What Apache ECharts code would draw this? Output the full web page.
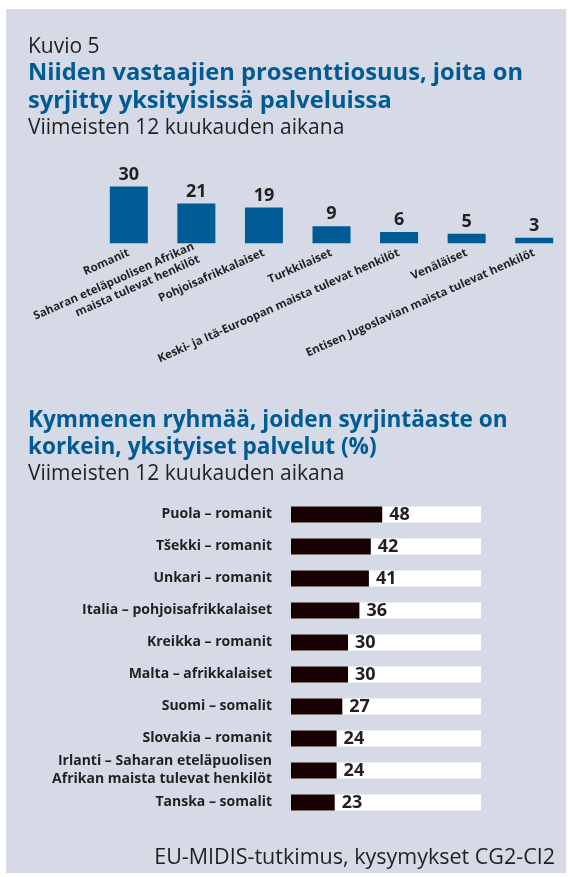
<!DOCTYPE html>
<html>
<head>
	<meta charset="utf-8">
	<title>Kuvio 5</title>
	<script src="https://cdn.jsdelivr.net/npm/echarts@6/dist/echarts.min.js"></script>
	<style>
		html, body { margin: 0; padding: 0; background: #fff; }
		#main { width: 568px; height: 877px; }
	</style>
</head>
<body>
	<div id="main"></div>

<script type="text/javascript">
	// ylempi kuvio: ryhmät ja prosentit
	var topCategories = [
		'Romanit',
		'Saharan eteläpuolisen Afrikan\nmaista tulevat henkilöt',
		'Pohjoisafrikkalaiset',
		'Turkkilaiset',
		'Keski- ja Itä-Euroopan maista tulevat henkilöt',
		'Venäläiset',
		'Entisen Jugoslavian maista tulevat henkilöt'
	];
	var topValues = [30, 21, 19, 9, 6, 5, 3];

	// alempi kuvio: kymmenen ryhmää
	var groupLabels = [
		'Puola – romanit',
		'Tšekki – romanit',
		'Unkari – romanit',
		'Italia – pohjoisafrikkalaiset',
		'Kreikka – romanit',
		'Malta – afrikkalaiset',
		'Suomi – somalit',
		'Slovakia – romanit',
		'Irlanti – Saharan eteläpuolisen\nAfrikan maista tulevat henkilöt',
		'Tanska – somalit'
	];
	var groupValues = [48, 42, 41, 36, 30, 30, 27, 24, 24, 23];

	var FONT = '"Open Sans", "Noto Sans", sans-serif';
	var TXT = '#231f20';
	var BLUE = '#005a94';

	function txt(x, y, text, size, weight, color, align){
		return {
			type: 'text',
			x: x,
			y: y,
			style: {
				text: text,
				fill: color,
				font: weight + ' ' + size + 'px ' + FONT,
				align: align || 'left',
				verticalAlign: 'bottom'
			}
		};
	}

	var option = {
		animation: false,
		backgroundColor: '#fff',
		textStyle: { fontFamily: FONT },
		graphic: [
			{ type: 'rect', z: -10, shape: { x: 6, y: 9, width: 560, height: 864 }, style: { fill: '#d5dae6' } },
			txt(28, 58, 'Kuvio 5', 21, 'normal', TXT),
			txt(28, 85, 'Niiden vastaajien prosenttiosuus, joita on', 23.7, 'bold', BLUE),
			txt(28, 113, 'syrjitty yksityisissä palveluissa', 23.7, 'bold', BLUE),
			txt(28, 139, 'Viimeisten 12 kuukauden aikana', 21, 'normal', TXT),
			txt(28, 432, 'Kymmenen ryhmää, joiden syrjintäaste on', 22.6, 'bold', BLUE),
			txt(28, 459, 'korkein, yksityiset palvelut (%)', 22.6, 'bold', BLUE),
			txt(28, 485, 'Viimeisten 12 kuukauden aikana', 21, 'normal', TXT),
			txt(555, 869, 'EU-MIDIS-tutkimus, kysymykset CG2-CI2', 21.5, 'normal', TXT, 'right')
		],
		grid: [
			{ left: 95, top: 186.6, width: 476, height: 56.7 },
			{ left: 291, top: 498.5, width: 190, height: 320 }
		],
		xAxis: [
			{
				gridIndex: 0,
				type: 'category',
				data: topCategories,
				axisLine: { show: false },
				axisTick: { show: false },
				axisLabel: {
					interval: 0,
					rotate: 24,
					margin: 9,
					color: TXT,
					fontSize: 11.5,
					fontWeight: 'bold',
					lineHeight: 14
				}
			},
			{
				gridIndex: 1,
				type: 'value',
				min: 0,
				max: 100,
				show: false
			}
		],
		yAxis: [
			{
				gridIndex: 0,
				type: 'value',
				min: 0,
				max: 30,
				show: false
			},
			{
				gridIndex: 1,
				type: 'category',
				inverse: true,
				data: groupLabels,
				axisLine: { show: false },
				axisTick: { show: false },
				axisLabel: {
					margin: 19,
					color: TXT,
					fontSize: 14,
					fontWeight: 'bold',
					lineHeight: 18
				}
			}
		],
		series: [
			{
				type: 'bar',
				xAxisIndex: 0,
				yAxisIndex: 0,
				data: topValues,
				barWidth: 38,
				itemStyle: { color: BLUE },
				label: {
					show: true,
					position: 'top',
					distance: 3,
					color: TXT,
					fontSize: 18,
					fontWeight: 'bold'
				}
			},
			{
				type: 'bar',
				xAxisIndex: 1,
				yAxisIndex: 1,
				data: groupValues,
				barWidth: 16,
				showBackground: true,
				backgroundStyle: { color: '#ffffff' },
				itemStyle: { color: '#160000' },
				label: {
					show: true,
					position: 'right',
					distance: 7,
					color: TXT,
					fontSize: 18,
					fontWeight: 'bold'
				}
			}
		]
	};

	var myChart = echarts.init(document.getElementById('main'));
	myChart.setOption(option);
</script>
</body>
</html>
